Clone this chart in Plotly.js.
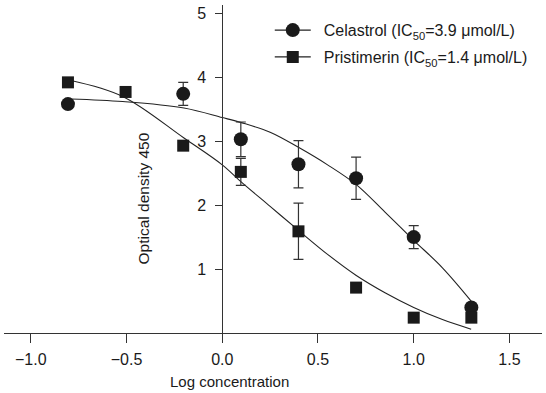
<!DOCTYPE html>
<html><head><meta charset="utf-8">
<script src="https://cdn.plot.ly/plotly-3.0.1.min.js"></script>
<style>html,body{margin:0;padding:0;background:#fff}#chart{width:546px;height:393px}</style>
</head><body><div id="chart"></div>
<script>
// Data
const celastrolX = [-0.806, -0.204, 0.097, 0.398, 0.699, 1.0, 1.301];
const celastrolOD = [3.58, 3.74, 3.03, 2.64, 2.42, 1.50, 0.40];
const celastrolErr = [0, 0.18, 0.27, 0.37, 0.33, 0.18, 0];
const pristimerinX = [-0.806, -0.505, -0.204, 0.097, 0.398, 0.699, 1.0, 1.301];
const pristimerinOD = [3.92, 3.77, 2.93, 2.52, 1.59, 0.71, 0.24, 0.24];
const pristimerinErr = [0, 0, 0, 0.21, 0.44, 0, 0, 0];
// Fitted curves
const fitX = [-0.79, -0.52, -0.2, 0, 0.1, 0.25, 0.4, 0.55, 0.7, 0.85, 1.0, 1.15, 1.3];
const celastrolFit = [3.66, 3.62, 3.52, 3.37, 3.29, 3.14, 2.90, 2.63, 2.32, 1.89, 1.45, 1.02, 0.50];
const pristimerinFit = [3.95, 3.70, 3.05, 2.63, 2.36, 1.98, 1.60, 1.23, 0.90, 0.63, 0.40, 0.21, 0.06];
const xTicks = [-1.0, -0.5, 0.0, 0.5, 1.0, 1.5];
const yTicks = [1, 2, 3, 4, 5];
const names = ['\u2002Celastrol (IC<sub>50</sub>=3.9 μmol/L)', '\u2002Pristimerin (IC<sub>50</sub>=1.4 μmol/L)'];

const FONT = 'Liberation Sans, Arial, sans-serif';
const INK = '#1a1a1a';
const xRange = [-1.14, 1.67];

const traces = [
  {x: fitX, y: celastrolFit, mode: 'lines', line: {color: '#222', width: 1.1, shape: 'spline'}, showlegend: false, hoverinfo: 'skip'},
  {x: fitX, y: pristimerinFit, mode: 'lines', line: {color: '#222', width: 1.1, shape: 'spline'}, showlegend: false, hoverinfo: 'skip'},
  {x: celastrolX, y: celastrolOD, mode: 'markers', showlegend: false,
   marker: {symbol: 'circle', size: 14, color: INK},
   error_y: {type: 'data', array: celastrolErr, visible: true, color: '#333', thickness: 1.2, width: 5}},
  {x: pristimerinX, y: pristimerinOD, mode: 'markers', showlegend: false,
   marker: {symbol: 'square', size: 12, color: INK},
   error_y: {type: 'data', array: pristimerinErr, visible: true, color: '#333', thickness: 1.2, width: 5}},
  {x: [null], y: [null], name: names[0], legendgroup: 'a', mode: 'lines+markers',
   line: {color: '#222', width: 1.1}, marker: {symbol: 'circle', size: 14, color: INK}},
  {x: [null], y: [null], name: names[1], legendgroup: 'b', mode: 'lines+markers',
   line: {color: '#222', width: 1.1}, marker: {symbol: 'square', size: 12, color: INK}}
];

const layout = {
  width: 546, height: 393,
  margin: {l: 4, r: 4, t: 5, b: 60},
  paper_bgcolor: '#fff', plot_bgcolor: '#fff',
  font: {family: FONT, size: 15, color: INK},
  showlegend: true,
  legend: {x: 0.494, xanchor: 'left', y: 0.975, yanchor: 'top', bgcolor: 'rgba(0,0,0,0)',
           traceorder: 'grouped', tracegroupgap: 3, itemwidth: 36,
           font: {family: FONT, size: 16, color: INK}},
  xaxis: {range: xRange, showline: true, linecolor: '#333', linewidth: 1,
          ticks: 'outside', ticklen: 9, tickcolor: '#333', tickwidth: 1,
          tickvals: xTicks, tickformat: '.1f', showgrid: false, zeroline: false,
          ticklabelstandoff: 3,
          tickfont: {family: FONT, size: 16, color: INK}},
  yaxis: {range: [0, 5.13], anchor: 'free', position: (0 - xRange[0]) / (xRange[1] - xRange[0]),
          showline: true, linecolor: '#333', linewidth: 1,
          ticks: 'outside', ticklen: 7, tickcolor: '#333', tickwidth: 1,
          tickvals: yTicks, showgrid: false, zeroline: false, ticklabelstandoff: 6,
          tickfont: {family: FONT, size: 16, color: INK}},
  annotations: [
    {text: 'Log concentration', xref: 'x', yref: 'paper', x: 0.037, y: -0.148,
     xanchor: 'center', yanchor: 'middle', showarrow: false, font: {family: FONT, size: 15, color: INK}},
    {text: 'Optical density 450', xref: 'x', yref: 'y', x: -0.41, y: 2.1, textangle: -90,
     xanchor: 'center', yanchor: 'middle', showarrow: false, font: {family: FONT, size: 15.5, color: INK}}
  ]
};

Plotly.newPlot('chart', traces, layout, {displayModeBar: false, staticPlot: true});
</script></body></html>
